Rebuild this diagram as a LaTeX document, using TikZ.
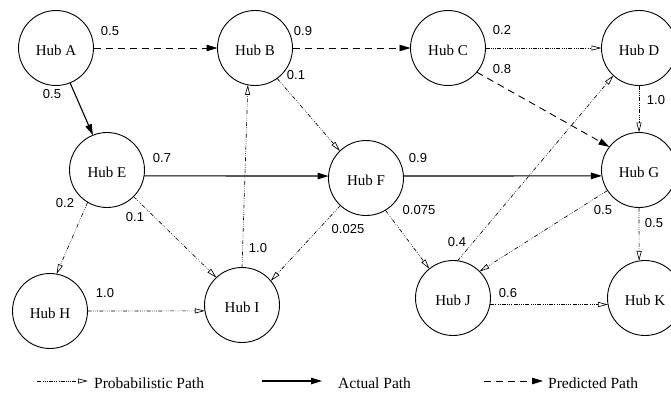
\documentclass[tikz,border=0pt]{standalone}
\usepackage{fontspec}
\setmainfont{Liberation Serif}
\newfontfamily\labelfont{Liberation Sans}
\usetikzlibrary{arrows.meta}
\begin{document}
\begin{tikzpicture}[x=1pt,y=-1pt,
  hub/.style={circle,draw,line width=0.9pt,minimum size=75pt,inner sep=0pt,outer sep=0pt,
    font=\fontsize{15}{17}\selectfont,text height=14pt,text depth=0pt},
  num/.style={font=\labelfont\fontsize{13}{15}\selectfont,inner sep=0pt},
  prob/.style={line width=0.65pt,dash pattern=on 4pt off 1.5pt on 0.6pt off 1.5pt on 0.6pt off 1.5pt on 0.6pt off 1.5pt,
    -{Triangle[open,length=10pt,width=5pt]}},
  actual/.style={line width=1.1pt,-{Triangle[length=11pt,width=6.5pt]}},
  pred/.style={line width=0.9pt,dash pattern=on 7pt off 5pt,-{Triangle[length=11pt,width=6.5pt]}},
  legtext/.style={font=\fontsize{15.5}{17}\selectfont,anchor=base west,inner sep=0pt}
]
\useasboundingbox (0,0) rectangle (671,392);
\clip (0,0) rectangle (671,392);

% hubs
\node[hub] (A) at (56,48) {Hub A};
\node[hub] (B) at (255,48) {Hub B};
\node[hub] (C) at (448,48) {Hub C};
\node[hub] (D) at (639,48) {Hub D};
\node[hub] (E) at (107,170) {Hub E};
\node[hub] (F) at (366,178) {Hub F};
\node[hub] (G) at (639,170) {Hub G};
\node[hub] (H) at (50,311) {Hub H};
\node[hub] (I) at (242,305) {Hub I};
\node[hub] (J) at (453,298) {Hub J};
\node[hub] (K) at (645,298) {Hub K};

% connectors
\draw[pred] (A.east) -- (B.west);
\draw[actual] (A.-68) -- (E.112);
\draw[pred] (B.east) -- (C.west);
\draw[prob] (B.-54) -- (F.134);
\draw[prob] (C.east) -- (D.west);
\draw[pred] (C.-40) -- (G.142);
\draw[prob] (D.south) -- (G.north);
\draw[actual] (E.-9) -- (F.177);
\draw[prob] (E.239) -- (H.80);
\draw[prob] (E.-45) -- (I.133);
\draw[prob] (I.north) -- (B.259);
\draw[prob] (H.east) -- (I.189);
\draw[actual] (F.3) -- (G.189);
\draw[prob] (F.227) -- (I.40);
\draw[prob] (F.-59) -- (J.129);
\draw[prob] (G.213) -- (J.45);
\draw[prob] (G.-90) -- (K.99);
\draw[prob] (J.83) -- (D.227);
\draw[prob] (J.-10) -- (K.190);

% labels
\node[num] (lab) at (110,31) {0.5};
\node[num] (lae) at (52,94) {0.5};
\node[num] (lbc) at (303,31) {0.9};
\node[num] (lbf) at (296,75) {0.1};
\node[num] (lcd) at (502,30) {0.2};
\node[num] (lcg) at (502,69) {0.8};
\node[num] (ldg) at (656,100) {1.0};
\node[num] (lef) at (162,158) {0.7};
\node[num] (leh) at (65,203) {0.2};
\node[num] (lei) at (135,217) {0.1};
\node[num] (lib) at (258,248) {1.0};
\node[num] (lhi) at (105,293) {1.0};
\node[num] (lfg) at (418,158) {0.9};
\node[num] (lfi) at (348,229) {0.025};
\node[num] (lfj) at (419,210) {0.075};
\node[num] (lgj) at (603,210) {0.5};
\node[num] (lgk) at (654,223) {0.5};
\node[num] (ljd) at (457,242) {0.4};
\node[num] (ljk) at (508,293) {0.6};

% legend
\coordinate (p1) at (37,381);
\coordinate (p2) at (88,381);
\draw[prob] (p1) -- (p2);
\node[legtext] (lp) at (94,388) {Probabilistic Path};
\coordinate (a1) at (262,381);
\coordinate (a2) at (322,381);
\draw[actual] (a1) -- (a2);
\node[legtext] (la) at (338,388) {Actual Path};
\coordinate (d1) at (484,381);
\coordinate (d2) at (543,381);
\draw[pred] (d1) -- (d2);
\node[legtext] (ld) at (548,388) {Predicted Path};
\end{tikzpicture}
\end{document}
